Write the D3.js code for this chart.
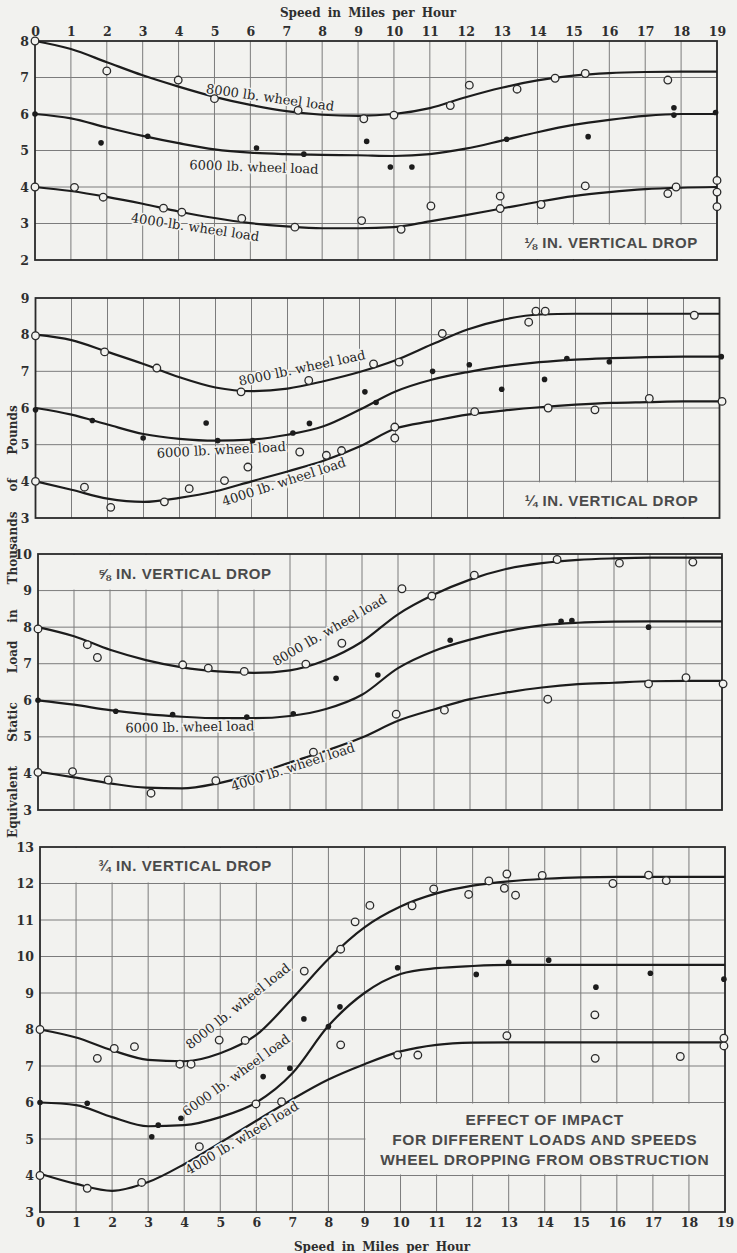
<!DOCTYPE html>
<html>
<head>
<meta charset="utf-8">
<script src="https://cdnjs.cloudflare.com/ajax/libs/d3/7.8.5/d3.min.js"></script>
<style>
  html, body { margin: 0; padding: 0; background: #f2f2ef; }
  svg { display: block; }
</style>
</head>
<body>
<div id="chart"></div>
<script>
// speed knots (mph) for the faired curves
const knotSpeeds = [0, 1, 2, 3, 4, 5, 6, 7, 8, 9, 10, 11, 12, 13, 14, 15, 16, 17, 18, 19];

// ---- 1/8 in. vertical drop ----
const curve8000_p1 = [8.0, 7.78, 7.42, 7.06, 6.75, 6.47, 6.25, 6.08, 5.98, 5.95, 6.0, 6.16, 6.46, 6.72, 6.92, 7.05, 7.12, 7.15, 7.16, 7.16];
const curve6000_p1 = [6.0, 5.88, 5.63, 5.4, 5.2, 5.03, 4.94, 4.9, 4.88, 4.87, 4.85, 4.9, 5.05, 5.27, 5.5, 5.7, 5.84, 5.95, 6.0, 6.0];
const curve4000_p1 = [4.0, 3.89, 3.73, 3.54, 3.33, 3.15, 3.01, 2.92, 2.87, 2.87, 2.9, 3.06, 3.23, 3.41, 3.59, 3.75, 3.86, 3.94, 3.98, 4.0];
const pts8000_p1 = [[0, 8.0], [2.0, 7.18], [3.99, 6.93], [5.0, 6.42], [7.33, 6.1], [9.16, 5.87], [10.0, 5.97], [11.57, 6.23], [12.1, 6.79], [13.43, 6.68], [14.49, 6.98], [15.33, 7.11], [17.63, 6.93]];
const pts6000_p1 = [[0, 6.0], [1.84, 5.21], [3.14, 5.39], [6.17, 5.07], [7.49, 4.9], [9.24, 5.25], [9.9, 4.55], [10.5, 4.55], [13.14, 5.31], [15.41, 5.38], [17.8, 6.17], [17.8, 5.97], [18.96, 6.04]];
const pts4000_p1 = [[0, 4.0], [1.1, 3.99], [1.9, 3.72], [3.58, 3.42], [4.09, 3.31], [5.76, 3.14], [7.24, 2.9], [9.1, 3.08], [10.2, 2.84], [11.03, 3.48], [12.96, 3.75], [12.96, 3.41], [14.1, 3.52], [15.33, 4.03], [17.63, 3.82], [17.86, 4.0], [19.0, 4.18], [19.0, 3.86], [19.0, 3.46]];

// ---- 1/4 in. vertical drop ----
const curve8000_p2 = [8.0, 7.85, 7.53, 7.2, 6.84, 6.56, 6.46, 6.53, 6.73, 6.98, 7.3, 7.73, 8.14, 8.41, 8.55, 8.57, 8.57, 8.57, 8.57, 8.57];
const curve6000_p2 = [6.0, 5.82, 5.55, 5.29, 5.16, 5.11, 5.14, 5.27, 5.5, 5.95, 6.45, 6.77, 6.98, 7.14, 7.25, 7.32, 7.36, 7.39, 7.4, 7.4];
const curve4000_p2 = [4.0, 3.77, 3.53, 3.44, 3.55, 3.73, 4.0, 4.27, 4.56, 4.95, 5.44, 5.64, 5.82, 5.93, 6.02, 6.09, 6.14, 6.16, 6.18, 6.18];
const pts8000_p2 = [[0, 7.97], [1.92, 7.53], [3.37, 7.09], [5.71, 6.44], [7.59, 6.75], [9.39, 7.2], [10.1, 7.25], [11.3, 8.03], [13.7, 8.34], [13.9, 8.64], [14.16, 8.64], [18.3, 8.53]];
const pts6000_p2 = [[0, 5.95], [1.58, 5.66], [2.99, 5.18], [4.74, 5.59], [5.06, 5.11], [6.03, 5.11], [7.15, 5.32], [7.61, 5.58], [9.15, 6.44], [9.46, 6.15], [11.03, 7.0], [12.05, 7.18], [12.95, 6.51], [14.14, 6.78], [14.76, 7.35], [15.94, 7.26], [19.05, 7.4]];
const pts4000_p2 = [[0, 4.0], [1.36, 3.84], [2.09, 3.29], [3.58, 3.44], [4.27, 3.8], [5.25, 4.02], [5.9, 4.39], [7.34, 4.8], [8.08, 4.71], [8.5, 4.84], [9.98, 5.48], [9.98, 5.18], [12.2, 5.9], [14.24, 6.0], [15.54, 5.95], [17.05, 6.26], [19.07, 6.18]];

// ---- 5/8 in. vertical drop ----
const curve8000_p3 = [8.0, 7.75, 7.38, 7.1, 6.9, 6.79, 6.75, 6.82, 7.1, 7.6, 8.35, 8.89, 9.3, 9.59, 9.75, 9.84, 9.88, 9.9, 9.9, 9.9];
const curve6000_p3 = [6.0, 5.88, 5.73, 5.62, 5.55, 5.51, 5.51, 5.57, 5.76, 6.15, 6.88, 7.35, 7.66, 7.89, 8.05, 8.12, 8.15, 8.16, 8.16, 8.16];
const curve4000_p3 = [4.05, 3.89, 3.73, 3.61, 3.59, 3.73, 3.98, 4.3, 4.62, 4.98, 5.44, 5.75, 6.03, 6.21, 6.35, 6.44, 6.48, 6.52, 6.53, 6.53];
const pts8000_p3 = [[0, 7.95], [1.37, 7.52], [1.65, 7.17], [4.02, 6.97], [4.73, 6.88], [5.73, 6.79], [7.44, 6.99], [8.44, 7.56], [10.11, 9.05], [10.94, 8.85], [12.12, 9.42], [14.42, 9.85], [16.15, 9.75], [18.19, 9.78]];
const pts6000_p3 = [[0, 6.0], [2.16, 5.7], [3.74, 5.61], [5.8, 5.54], [7.09, 5.63], [8.28, 6.6], [9.44, 6.69], [11.45, 7.64], [14.53, 8.16], [14.83, 8.18], [16.96, 8.0]];
const pts4000_p3 = [[0, 4.03], [0.96, 4.05], [1.95, 3.82], [3.14, 3.46], [4.94, 3.8], [7.65, 4.58], [9.95, 5.62], [11.29, 5.73], [14.16, 6.03], [16.96, 6.45], [18.0, 6.62], [19.03, 6.45]];

// ---- 3/4 in. vertical drop ----
const curve8000_p4 = [8.0, 7.78, 7.43, 7.17, 7.13, 7.35, 7.85, 8.85, 9.93, 10.8, 11.37, 11.73, 11.94, 12.06, 12.13, 12.17, 12.18, 12.18, 12.18, 12.18];
const curve6000_p4 = [6.0, 5.93, 5.6, 5.35, 5.38, 5.6, 6.0, 6.8, 8.1, 9.0, 9.52, 9.68, 9.74, 9.77, 9.77, 9.77, 9.77, 9.77, 9.77, 9.77];
const curve4000_p4 = [4.05, 3.77, 3.58, 3.82, 4.31, 4.9, 5.5, 6.09, 6.63, 7.05, 7.4, 7.58, 7.64, 7.65, 7.65, 7.65, 7.65, 7.65, 7.65, 7.65];
const pts8000_p4 = [[0, 8.0], [1.59, 7.21], [2.06, 7.48], [2.62, 7.53], [3.88, 7.05], [4.19, 7.05], [4.97, 7.71], [5.69, 7.7], [7.33, 9.6], [8.34, 10.2], [8.74, 10.95], [9.15, 11.4], [10.32, 11.39], [10.92, 11.85], [11.89, 11.7], [12.45, 12.07], [12.88, 11.87], [12.95, 12.26], [13.19, 11.68], [13.93, 12.22], [15.89, 12.0], [16.88, 12.23], [17.37, 12.08]];
const pts6000_p4 = [[0, 6.0], [1.31, 5.98], [3.1, 5.06], [3.28, 5.38], [3.91, 5.57], [6.19, 6.71], [6.93, 6.94], [7.32, 8.29], [8.0, 8.08], [8.32, 8.62], [9.92, 9.69], [12.1, 9.51], [13.0, 9.84], [14.11, 9.9], [15.42, 9.16], [16.93, 9.54], [18.97, 9.38]];
const pts4000_p4 = [[0, 4.0], [1.31, 3.65], [2.82, 3.81], [4.42, 4.79], [5.99, 5.96], [6.7, 6.02], [8.34, 7.58], [9.92, 7.3], [10.48, 7.3], [12.95, 7.83], [15.39, 8.4], [15.4, 7.21], [17.76, 7.26], [18.97, 7.76], [18.97, 7.55]];

const speedLabel = "Speed in Miles per Hour";
const yTitleWords = ["Equivalent", "Static", "Load", "in", "Thousands", "of", "Pounds"];
const impactLines = ["EFFECT OF IMPACT", "FOR DIFFERENT LOADS AND SPEEDS", "WHEEL DROPPING FROM OBSTRUCTION"];

// ---- layout ----
const W = 737, H = 1253;
const bg = "#f2f2ef", ink = "#1c1c1c", gridColor = "#7c7c7c";
const serif = "'DejaVu Serif', 'Liberation Serif', serif";
const sans = "'Liberation Sans', Arial, sans-serif";

const panels = [
    {
        yDomain: [2, 8], yTicks: [2, 3, 4, 5, 6, 7, 8],
        frame: { left: 35, right: 717, top: 41, bottom: 260 },
        curves: [curve8000_p1, curve6000_p1, curve4000_p1],
        open: [pts8000_p1, pts4000_p1], filled: [pts6000_p1],
        box: [13, 19, 2, 3], boxText: { text: "⅛ IN. VERTICAL DROP", at: [16.05, 2.48] },
        labels: [
            { text: "8000 lb. wheel load", at: [6.55, 6.45], angle: 8 },
            { text: "6000 lb.  wheel load", at: [6.1, 4.55], angle: 2 },
            { text: "4000-lb. wheel load", at: [4.46, 2.9], angle: 8.5 }
        ]
    },
    {
        yDomain: [3, 9], yTicks: [3, 4, 5, 6, 7, 8, 9],
        frame: { left: 35.5, right: 719.5, top: 298, bottom: 518 },
        curves: [curve8000_p2, curve6000_p2, curve4000_p2],
        open: [pts8000_p2, pts4000_p2], filled: [pts6000_p2],
        box: [13, 19, 3, 4], boxText: { text: "¼ IN. VERTICAL DROP", at: [16.0, 3.48] },
        labels: [
            { text: "8000 lb. wheel load", at: [7.4, 7.09], angle: -12 },
            { text: "6000 lb. wheel load", at: [5.16, 4.86], angle: -3 },
            { text: "4000 lb. wheel load", at: [6.9, 3.99], angle: -18 }
        ]
    },
    {
        yDomain: [3, 10], yTicks: [3, 4, 5, 6, 7, 8, 9, 10],
        frame: { left: 38, right: 722, top: 554, bottom: 810 },
        curves: [curve8000_p3, curve6000_p3, curve4000_p3],
        open: [pts8000_p3, pts4000_p3], filled: [pts6000_p3],
        box: [0, 7, 9, 10], boxText: { text: "⅝ IN. VERTICAL DROP", at: [4.08, 9.47] },
        labels: [
            { text: "8000 lb. wheel load", at: [8.1, 7.92], angle: -30 },
            { text: "6000 lb. wheel load", at: [4.22, 5.27], angle: -1 },
            { text: "4000 lb. wheel load", at: [7.08, 4.18], angle: -18 }
        ]
    },
    {
        yDomain: [3, 13], yTicks: [3, 4, 5, 6, 7, 8, 9, 10, 11, 12, 13],
        frame: { left: 40, right: 725, top: 847, bottom: 1212 },
        curves: [curve8000_p4, curve6000_p4, curve4000_p4],
        open: [pts8000_p4, pts4000_p4], filled: [pts6000_p4],
        box: [0, 7, 12, 13], boxText: { text: "¾ IN. VERTICAL DROP", at: [4.02, 12.48] },
        impactBox: [9, 19, 4, 6],
        labels: [
            { text: "8000 lb. wheel load", at: [5.49, 8.64], angle: -38.5 },
            { text: "6000 lb. wheel load", at: [5.44, 6.75], angle: -36 },
            { text: "4000 lb. wheel load", at: [5.6, 5.03], angle: -31 }
        ]
    }
];

const svg = d3.select("#chart").append("svg").attr("width", W).attr("height", H);
svg.append("rect").attr("width", W).attr("height", H).attr("fill", bg);

const xScales = [];

panels.forEach(p => {
    const x = d3.scaleLinear().domain([0, 19]).range([p.frame.left, p.frame.right]);
    const y = d3.scaleLinear().domain(p.yDomain).range([p.frame.bottom, p.frame.top]);
    xScales.push(x);
    const g = svg.append("g");
    const yLo = p.yDomain[0], yHi = p.yDomain[1];

    // grid
    g.selectAll(null).data(knotSpeeds.slice(1)).enter().append("line")
        .attr("x1", d => x(d)).attr("x2", d => x(d))
        .attr("y1", y(yLo)).attr("y2", y(yHi))
        .attr("stroke", gridColor).attr("stroke-width", 1);
    g.selectAll(null).data(p.yTicks.slice(1, -1)).enter().append("line")
        .attr("x1", x(0)).attr("x2", x(19))
        .attr("y1", d => y(d)).attr("y2", d => y(d))
        .attr("stroke", gridColor).attr("stroke-width", 1);

    // blank panels that carry the captions
    const masks = [p.box];
    if (p.impactBox) { masks.push(p.impactBox); }
    masks.forEach(b => {
        g.append("rect")
            .attr("x", x(b[0]) + 1).attr("y", y(b[3]) + 1)
            .attr("width", x(b[1]) - x(b[0]) - 2)
            .attr("height", y(b[2]) - y(b[3]) - 2)
            .attr("fill", bg);
    });

    // frame
    g.append("rect")
        .attr("x", x(0)).attr("y", y(yHi))
        .attr("width", x(19) - x(0)).attr("height", y(yLo) - y(yHi))
        .attr("fill", "none").attr("stroke", "#2a2a2a").attr("stroke-width", 1.8);

    // y tick labels
    g.append("g")
        .attr("transform", "translate(" + x(0) + ",0)")
        .call(d3.axisLeft(y).tickValues(p.yTicks).tickSize(0).tickPadding(6).tickFormat(d3.format("d")))
        .call(a => a.select(".domain").remove())
        .selectAll("text")
        .attr("font-family", serif).attr("font-weight", "bold")
        .attr("font-size", 12.5).attr("fill", "#2e2e2e");

    // caption
    g.append("text")
        .attr("x", x(p.boxText.at[0])).attr("y", y(p.boxText.at[1]))
        .attr("text-anchor", "middle").attr("dominant-baseline", "central")
        .attr("font-family", sans).attr("font-weight", "bold")
        .attr("font-size", 15).attr("letter-spacing", 0.6)
        .attr("fill", "#4a4a4a")
        .text(p.boxText.text);

    // faired curves
    const line = d3.line()
        .x((d, i) => x(knotSpeeds[i]))
        .y(d => y(d))
        .curve(d3.curveMonotoneX);
    p.curves.forEach(c => {
        g.append("path").datum(c)
            .attr("d", line)
            .attr("fill", "none").attr("stroke", ink)
            .attr("stroke-width", 2.2);
    });

    // curve labels
    p.labels.forEach(l => {
        g.append("text")
            .attr("transform", "translate(" + x(l.at[0]) + "," + y(l.at[1]) + ") rotate(" + l.angle + ")")
            .attr("text-anchor", "middle").attr("dominant-baseline", "central")
            .attr("font-family", serif).attr("font-size", 13)
            .attr("fill", "#262626")
            .attr("stroke", bg).attr("stroke-width", 3).attr("paint-order", "stroke")
            .text(l.text);
    });

    // test points
    p.open.forEach(set => {
        g.selectAll(null).data(set).enter().append("circle")
            .attr("cx", d => x(d[0])).attr("cy", d => y(d[1]))
            .attr("r", 3.8)
            .attr("fill", bg).attr("stroke", "#2a2a2a").attr("stroke-width", 1.3);
    });
    p.filled.forEach(set => {
        g.selectAll(null).data(set).enter().append("circle")
            .attr("cx", d => x(d[0])).attr("cy", d => y(d[1]))
            .attr("r", 2.8)
            .attr("fill", ink);
    });

    if (p.impactBox) {
        const cx = x((p.impactBox[0] + p.impactBox[1]) / 2);
        const cy = y((p.impactBox[2] + p.impactBox[3]) / 2);
        g.append("text")
            .attr("x", cx).attr("y", cy)
            .attr("text-anchor", "middle")
            .attr("font-family", sans).attr("font-weight", "bold")
            .attr("font-size", 15.5).attr("letter-spacing", 0.6)
            .attr("fill", "#4a4a4a")
            .selectAll("tspan").data(impactLines).enter().append("tspan")
            .attr("x", cx)
            .attr("y", (d, i) => cy + (i - 1) * 20)
            .attr("dominant-baseline", "central")
            .text(d => d);
    }
});

// speed axes, top and bottom
const tickStyle = sel => sel.selectAll("text")
    .attr("font-family", serif).attr("font-weight", "bold")
    .attr("font-size", 12.5).attr("fill", "#2e2e2e");

svg.append("g")
    .attr("transform", "translate(0,36)")
    .call(d3.axisTop(xScales[0]).tickValues(knotSpeeds).tickSize(0).tickPadding(0).tickFormat(d3.format("d")))
    .call(a => a.select(".domain").remove())
    .call(tickStyle);

svg.append("g")
    .attr("transform", "translate(0,1218)")
    .call(d3.axisBottom(xScales[3]).tickValues(knotSpeeds).tickSize(0).tickPadding(0).tickFormat(d3.format("d")))
    .call(a => a.select(".domain").remove())
    .call(tickStyle);

[[368, 17], [382, 1251]].forEach(pos => {
    svg.append("text")
        .attr("x", pos[0]).attr("y", pos[1])
        .attr("text-anchor", "middle")
        .attr("font-family", serif).attr("font-weight", "bold")
        .attr("font-size", 12).attr("word-spacing", 3)
        .attr("fill", "#2e2e2e")
        .text(speedLabel);
});

// vertical title, words spread along the left margin
const wordCentres = [802, 722, 657, 616, 548, 485, 430];
yTitleWords.forEach((w, i) => {
    svg.append("text")
        .attr("transform", "translate(13," + wordCentres[i] + ") rotate(-90)")
        .attr("text-anchor", "middle").attr("dominant-baseline", "central")
        .attr("font-family", serif).attr("font-weight", "bold")
        .attr("font-size", 12).attr("fill", "#2e2e2e")
        .text(w);
});
</script>
</body>
</html>
